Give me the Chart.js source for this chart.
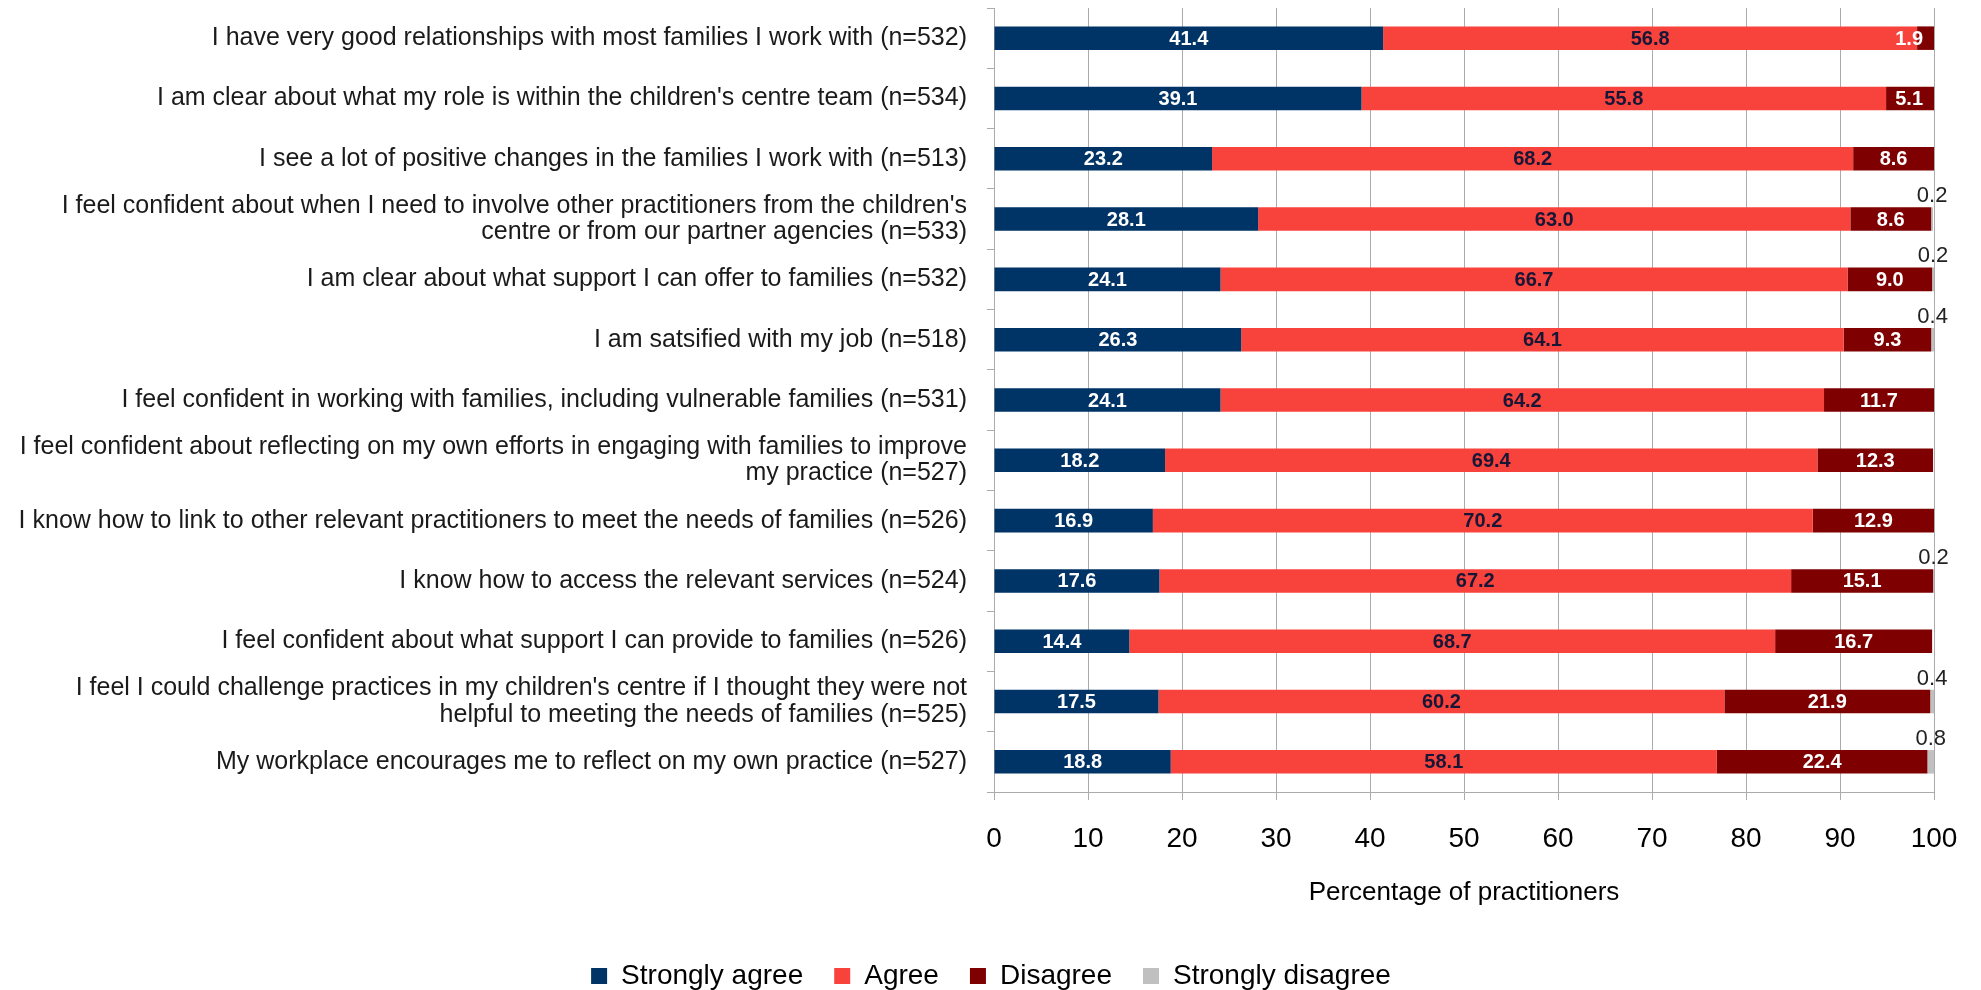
<!DOCTYPE html>
<html>
<head>
<meta charset="utf-8">
<title>Practitioner views</title>
<script src="https://cdn.jsdelivr.net/npm/chart.js@4.4.1/dist/chart.umd.min.js"></script>
<style>
  html, body { margin: 0; padding: 0; background: #fff; }
  #wrap { width: 1981px; height: 990px; }
</style>
</head>
<body>
<div id="wrap"><canvas id="viewsChart" width="1981" height="990"></canvas></div>
<script>
// Survey statements (long ones split over two lines)
const statements = [
    "I have very good relationships with most families I work with (n=532)",
    "I am clear about what my role is within the children's centre team (n=534)",
    "I see a lot of positive changes in the families I work with (n=513)",
    ["I feel confident about when I need to involve other practitioners from the children's", "centre or from our partner agencies (n=533)"],
    "I am clear about what support I can offer to families (n=532)",
    "I am satsified with my job (n=518)",
    "I feel confident in working with families, including vulnerable families (n=531)",
    ["I feel confident about reflecting on my own efforts in engaging with families to improve", "my practice (n=527)"],
    "I know how to link to other relevant practitioners to meet the needs of families (n=526)",
    "I know how to access the relevant services (n=524)",
    "I feel confident about what support I can provide to families (n=526)",
    ["I feel I could challenge practices in my children's centre if I thought they were not", "helpful to meeting the needs of families (n=525)"],
    "My workplace encourages me to reflect on my own practice (n=527)"
];

const stronglyAgree = [41.4, 39.1, 23.2, 28.1, 24.1, 26.3, 24.1, 18.2, 16.9, 17.6, 14.4, 17.5, 18.8];
const agree = [56.8, 55.8, 68.2, 63.0, 66.7, 64.1, 64.2, 69.4, 70.2, 67.2, 68.7, 60.2, 58.1];
const disagree = [1.9, 5.1, 8.6, 8.6, 9.0, 9.3, 11.7, 12.3, 12.9, 15.1, 16.7, 21.9, 22.4];
const stronglyDisagree = [null, null, null, 0.2, 0.2, 0.4, null, null, null, 0.2, null, 0.4, 0.8];

const xTickValues = [0, 10, 20, 30, 40, 50, 60, 70, 80, 90, 100];

const FONT = "'Liberation Sans', Arial, sans-serif";
const GRID = '#ababab';

// value text inside each segment; the tiny "strongly disagree" ones sit above the bar end
const labelColours = ['#ffffff', '#161636', '#ffffff', '#222222'];

const segmentLabels = {
    id: 'segmentLabels',
    afterDatasetsDraw(chart) {
        const ctx = chart.ctx;
        const area = chart.chartArea;
        ctx.save();
        ctx.textAlign = 'center';
        ctx.textBaseline = 'middle';
        chart.data.datasets.forEach((ds, di) => {
            const meta = chart.getDatasetMeta(di);
            meta.data.forEach((bar, i) => {
                const v = ds.data[i];
                if (v === null || v === undefined) return;
                const text = v.toFixed(1);
                const left = Math.min(bar.base, bar.x);
                const right = Math.min(Math.max(bar.base, bar.x), area.right);
                let x = (left + right) / 2;
                ctx.fillStyle = labelColours[di];
                if (di === 3) {
                    ctx.font = '22px ' + FONT;
                    ctx.fillText(text, x, bar.y - 23);
                    return;
                }
                ctx.font = 'bold 20px ' + FONT;
                const half = ctx.measureText(text).width / 2;
                x = Math.min(x, area.right - 11 - half);
                ctx.fillText(text, x, bar.y + 1);
            });
        });
        ctx.restore();
    }
};

// legend sits centred under the whole canvas, not just the padded box
const legendShift = {
    id: 'legendShift',
    afterLayout(chart) {
        const lg = chart.legend;
        if (lg) {
            lg.left += 24;
            lg.right += 24;
        }
    }
};

const ctx = document.getElementById('viewsChart');

new Chart(ctx.getContext('2d'), {
    type: 'bar',
    data: {
        labels: statements,
        datasets: [
            { label: 'Strongly agree', data: stronglyAgree, backgroundColor: '#003366' },
            { label: 'Agree', data: agree, backgroundColor: '#f8423c' },
            { label: 'Disagree', data: disagree, backgroundColor: '#7f0000' },
            { label: 'Strongly disagree', data: stronglyDisagree, backgroundColor: '#c0c0c0' }
        ]
    },
    options: {
        indexAxis: 'y',
        responsive: false,
        animation: false,
        devicePixelRatio: 1,
        datasets: {
            bar: {
                categoryPercentage: 1,
                barPercentage: 0.39,
                borderWidth: 0
            }
        },
        layout: {
            padding: { top: 8, left: 0, right: 47, bottom: -10 }
        },
        plugins: {
            tooltip: { enabled: false },
            legend: {
                position: 'bottom',
                labels: {
                    boxWidth: 16,
                    boxHeight: 16,
                    padding: 31,
                    color: '#000',
                    font: { family: FONT, size: 28 }
                }
            }
        },
        scales: {
            x: {
                stacked: true,
                min: 0,
                max: 100,
                afterBuildTicks: (scale) => {
                    scale.ticks = xTickValues.map(v => ({ value: v }));
                },
                afterFit: (scale) => {
                    scale.height = 139;
                },
                grid: {
                    color: GRID,
                    lineWidth: 1,
                    tickLength: 8
                },
                border: { color: GRID },
                ticks: {
                    color: '#000',
                    padding: 22,
                    maxRotation: 0,
                    font: { family: FONT, size: 28 }
                },
                title: {
                    display: true,
                    text: 'Percentage of practitioners',
                    color: '#000',
                    font: { family: FONT, size: 26 },
                    padding: { top: 0, bottom: 23 }
                }
            },
            y: {
                stacked: true,
                afterFit: (scale) => {
                    scale.width = 994;
                    // labels are centred in their bands, no extra room needed above/below
                    scale.paddingTop = 0;
                    scale.paddingBottom = 0;
                },
                grid: {
                    drawOnChartArea: false,
                    color: GRID,
                    tickLength: 7
                },
                border: { color: GRID },
                ticks: {
                    color: '#1a1a1a',
                    padding: 20,
                    autoSkip: false,
                    font: { family: FONT, size: 25, lineHeight: 1.05 }
                }
            }
        }
    },
    plugins: [segmentLabels, legendShift]
});
</script>
</body>
</html>
